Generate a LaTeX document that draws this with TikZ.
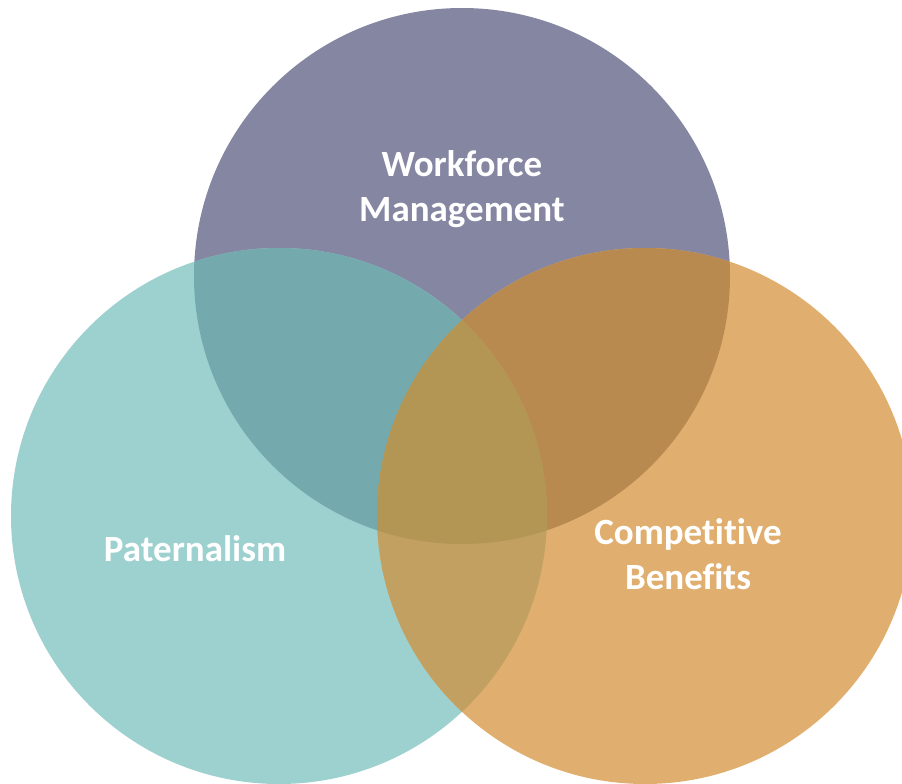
\documentclass[tikz,border=0pt]{standalone}
\usepackage{fontspec}
\setmainfont[Ligatures=NoCommon]{Carlito}
\definecolor{cP}{HTML}{8587A2}
\definecolor{cT}{HTML}{9DD1CF}
\definecolor{cO}{HTML}{E0AF6F}
\definecolor{cPT}{HTML}{74A9AE}
\definecolor{cPO}{HTML}{B98A50}
\definecolor{cTO}{HTML}{C2A061}
\definecolor{cPTO}{HTML}{B39554}
\tikzset{lbl/.style={text=white, align=center, inner sep=0pt, font=\fontsize{37}{45}\selectfont\bfseries}}
\begin{document}
\begin{tikzpicture}[x=1pt,y=-1pt]
\useasboundingbox (0,0) rectangle (902,784);
\def\circP{(462,276) circle (268)}
\def\circT{(279,516) circle (268)}
\def\circO{(645,516) circle (268)}
\fill[cP] \circP;
\fill[cT] \circT;
\fill[cO] \circO;
\begin{scope}
  \clip \circP;
  \fill[cPT] \circT;
  \fill[cPO] \circO;
\end{scope}
\begin{scope}
  \clip \circT;
  \fill[cTO] \circO;
  \clip \circO;
  \fill[cPTO] \circP;
\end{scope}
\node[lbl] (wm) at (462,189) {Workforce\\Management};
\node[lbl] (pa) at (195,549) {Paternalism};
\node[lbl] (cb) at (688,554) {Competitive\\Benefits};
\end{tikzpicture}
\end{document}
